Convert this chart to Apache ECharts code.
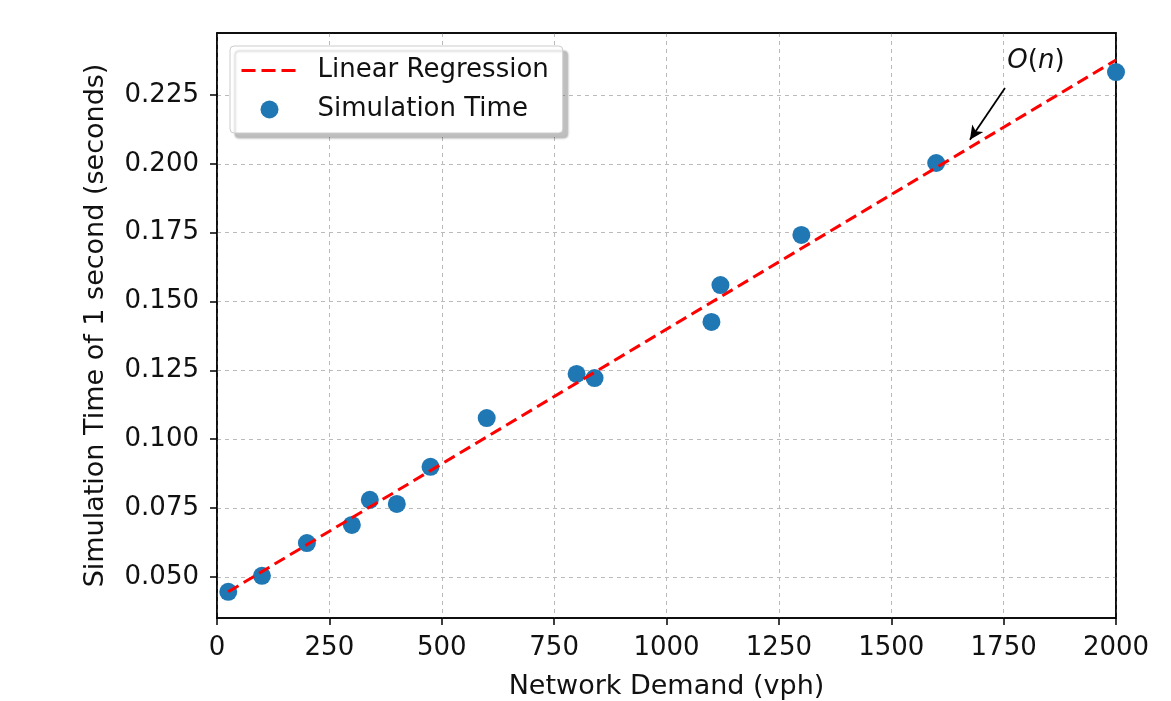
<!DOCTYPE html>
<html>
<head>
<meta charset="utf-8">
<script src="https://cdn.jsdelivr.net/npm/echarts@6/dist/echarts.min.js"></script>
<style>
  html, body { margin: 0; padding: 0; background: #fff; }
  #chart { width: 1171px; height: 701px; }
</style>
</head>
<body>
<div id="chart"></div>
<script>
// measured points (vph, seconds)
var demand = [25, 100, 200, 300, 340, 400, 475, 600, 800, 840, 1100, 1120, 1300, 1600, 2000];
var simTime = [0.0446, 0.0504, 0.0623, 0.0689, 0.0780, 0.0765, 0.0900, 0.1077, 0.1237, 0.1222, 0.1426, 0.1560, 0.1742, 0.2003, 0.2333];

// fitted line end points
var fitX = [25, 2000];
var fitY = [0.0446, 0.2377];

var yTicks = [0.050, 0.075, 0.100, 0.125, 0.150, 0.175, 0.200, 0.225];

var font = 'DejaVu Sans';
var chart = echarts.init(document.getElementById('chart'));

var frame = { show: true, onZero: false, lineStyle: { color: '#000', width: 1.5 } };

var option = {
    backgroundColor: '#fff',
    animation: false,
    textStyle: { fontFamily: font },
    grid: {
        left: 217, right: 55, top: 33, bottom: 83,
        outerBoundsMode: 'none',
        show: true, borderColor: '#000', borderWidth: 1.5, backgroundColor: '#fff'
    },
    legend: {
        orient: 'vertical',
        left: 230, top: 46,
        padding: [11, 14, 10, 10],
        itemWidth: 56, itemHeight: 18, itemGap: 12,
        backgroundColor: '#fff',
        borderColor: '#ccc', borderWidth: 1, borderRadius: 4,
        shadowColor: 'rgba(0,0,0,0.25)', shadowBlur: 2, shadowOffsetX: 5, shadowOffsetY: 5,
        lineStyle: { width: 3, type: [14, 6] },
        textStyle: { fontSize: 26, color: '#111', fontFamily: font, lineHeight: 27, padding: [0, 0, 0, 15] },
        data: [
            { name: 'Linear Regression', itemStyle: { opacity: 0 } },
            { name: 'Simulation Time', icon: 'circle' }
        ]
    },
    xAxis: [{
        type: 'value', min: 0, max: 2000, interval: 250,
        name: 'Network Demand (vph)', nameLocation: 'middle', nameGap: 55,
        nameTextStyle: { fontSize: 27, color: '#111', fontFamily: font },
        axisLine: frame,
        axisTick: { show: true, length: 7, lineStyle: { color: '#000', width: 1.5 } },
        axisLabel: {
            fontSize: 26, color: '#111', margin: 17, fontFamily: font,
            formatter: function (v) { return String(v); }
        },
        splitLine: { show: true, lineStyle: { color: '#bbb', width: 1, type: [4, 4] } }
    }, {
        type: 'value', position: 'top', min: 0, max: 2000, interval: 250,
        axisLine: frame, axisTick: { show: false }, axisLabel: { show: false }, splitLine: { show: false }
    }],
    yAxis: [{
        type: 'value', min: 0.0351, max: 0.2475,
        name: 'Simulation Time of 1 second (seconds)', nameLocation: 'middle', nameGap: 108,
        nameTextStyle: { fontSize: 27, color: '#111', fontFamily: font },
        axisLine: frame,
        axisTick: { show: true, length: 7, customValues: yTicks, lineStyle: { color: '#000', width: 1.5 } },
        axisLabel: {
            fontSize: 26, color: '#111', margin: 18, fontFamily: font, customValues: yTicks,
            formatter: function (v) { return v.toFixed(3); }
        },
        splitLine: { show: true, lineStyle: { color: '#bbb', width: 1, type: [4, 4] } }
    }, {
        type: 'value', position: 'right', min: 0.0351, max: 0.2475,
        axisLine: frame, axisTick: { show: false }, axisLabel: { show: false }, splitLine: { show: false }
    }],
    series: [
        {
            name: 'Linear Regression',
            type: 'line',
            data: fitX.map(function (x, i) { return [x, fitY[i]]; }),
            symbol: 'none',
            lineStyle: { color: '#ff0000', width: 3, type: [12, 6] },
            itemStyle: { color: '#ff0000' },
            z: 3,
            markLine: {
                silent: true,
                symbol: ['none', 'arrow'],
                symbolSize: [10, 14],
                label: { show: false },
                lineStyle: { color: '#000', width: 1.8, type: 'solid' },
                data: [[{ coord: [1753, 0.2275] }, { coord: [1675, 0.2087] }]]
            }
        },
        {
            name: 'Simulation Time',
            type: 'scatter',
            data: demand.map(function (x, i) { return [x, simTime[i]]; }),
            symbolSize: 18,
            itemStyle: { color: '#1f77b4', opacity: 1 },
            z: 2,
            markPoint: {
                silent: true,
                symbol: 'circle', symbolSize: 0,
                label: {
                    show: true, position: 'inside',
                    formatter: '{i|O}{r|(}{i|n}{r|)}',
                    rich: {
                        i: { fontSize: 26, fontStyle: 'italic', color: '#111', fontFamily: font },
                        r: { fontSize: 26, color: '#111', fontFamily: font }
                    }
                },
                data: [{ coord: [1822, 0.2372] }]
            }
        }
    ]
};

chart.setOption(option);
</script>
</body>
</html>
